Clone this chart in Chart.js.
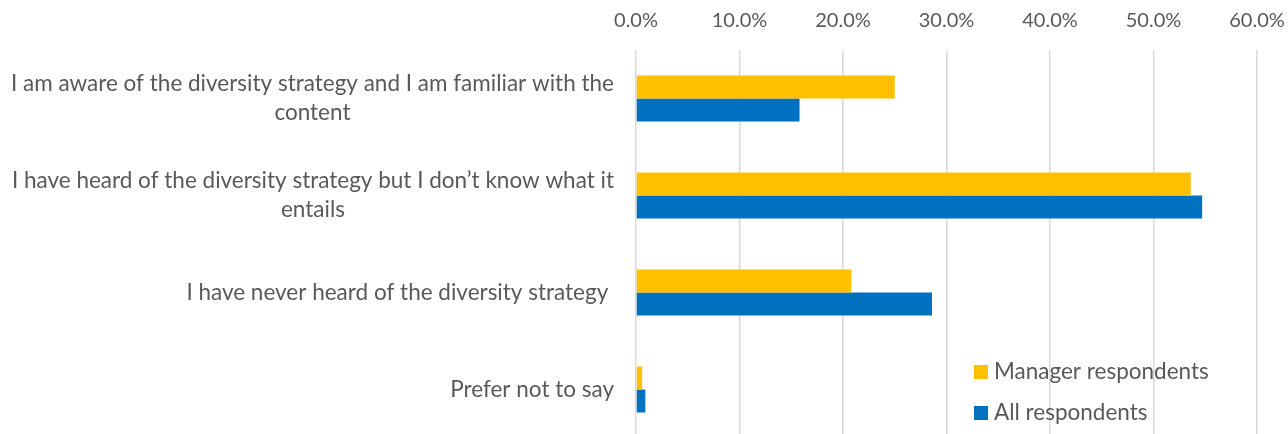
<!DOCTYPE html>
<html>
<head>
<meta charset="utf-8">
<script src="https://cdn.jsdelivr.net/npm/chart.js@4.4.1/dist/chart.umd.min.js"></script>
<style>
  html, body { margin: 0; padding: 0; background: #fff; overflow: hidden; }
  #wrap { position: absolute; left: 0; top: 0; width: 1288px; height: 438px; }
</style>
</head>
<body>
<div id="wrap"><canvas id="c"></canvas></div>
<script>
// ---- data ----
const categories = [
  ["I am aware of the diversity strategy and I am familiar with the", "content"],
  ["I have heard of the diversity strategy but I don\u2019t know what it", "entails"],
  ["I have never heard of the diversity strategy "],
  ["Prefer not to say"]
];
const seriesNames = ["Manager respondents", "All respondents"];
const managerValues = [25.0, 53.6, 20.8, 0.6];
const allValues = [15.8, 54.7, 28.6, 0.9];
const xTicks = [0, 10, 20, 30, 40, 50, 60];

// ---- style ----
const FONT = "Lato, 'Open Sans', sans-serif";
const LABEL_SIZE = 22.5;
const TICK_SIZE = 20;
const TEXT_COLOR = "#595959";
const COLORS = ["#FFC000", "#0070C0"];
const LABEL_RIGHT = 614;
const LINE_H = 29;

const textPlugin = {
  id: 'wrappedLabels',
  afterDraw(chart) {
    const ctx = chart.ctx;
    const ys = chart.scales.y;
    ctx.save();
    ctx.font = LABEL_SIZE + "px " + FONT;
    ctx.fillStyle = TEXT_COLOR;
    ctx.textBaseline = 'middle';
    ctx.textAlign = 'center';
    categories.forEach((lines, i) => {
      const cy = ys.getPixelForValue(i);
      const widest = Math.max(...lines.map(l => ctx.measureText(l).width));
      const cx = LABEL_RIGHT - widest / 2;
      lines.forEach((l, j) => {
        ctx.fillText(l, cx, cy + (j - (lines.length - 1) / 2) * LINE_H);
      });
    });
    // legend inside plot, bottom right
    const lx = 974, ly0 = 372, gap = 41, box = 14;
    ctx.textAlign = 'left';
    chart.data.datasets.forEach((ds, k) => {
      const yy = ly0 + k * gap;
      ctx.fillStyle = ds.backgroundColor;
      ctx.fillRect(lx, yy - box / 2, box, box);
      ctx.fillStyle = TEXT_COLOR;
      ctx.fillText(ds.label, lx + 20, yy);
    });
    ctx.restore();
  }
};

new Chart(document.getElementById('c'), {
  type: 'bar',
  data: {
    labels: categories.map(c => c.join(' ')),
    datasets: [
      { label: seriesNames[0], data: managerValues, backgroundColor: COLORS[0] },
      { label: seriesNames[1], data: allValues, backgroundColor: COLORS[1] }
    ]
  },
  options: {
    indexAxis: 'y',
    responsive: true,
    maintainAspectRatio: false,
    animation: false,
    layout: { padding: { left: 0, right: 31, top: 0, bottom: 0 } },
    datasets: { bar: { categoryPercentage: 0.474, barPercentage: 1.0 } },
    plugins: { legend: { display: false }, tooltip: { enabled: false } },
    scales: {
      x: {
        position: 'top',
        min: 0, max: 60,
        afterBuildTicks: (s) => { s.ticks = xTicks.map(v => ({ value: v })); },
        afterFit: (s) => { s.height = 50; s.paddingLeft = 0; s.paddingRight = 0; },
        ticks: {
          callback: (v) => Number(v).toFixed(1) + '%',
          color: TEXT_COLOR,
          font: { family: FONT, size: TICK_SIZE },
          padding: 17,
          maxRotation: 0
        },
        grid: { color: '#d9d9d9', lineWidth: 1.5, drawTicks: false },
        border: { display: false }
      },
      y: {
        afterFit: (s) => { s.width = 636; },
        ticks: { display: false },
        grid: { display: false },
        border: { display: false }
      }
    }
  },
  plugins: [textPlugin]
});
</script>
</body>
</html>
